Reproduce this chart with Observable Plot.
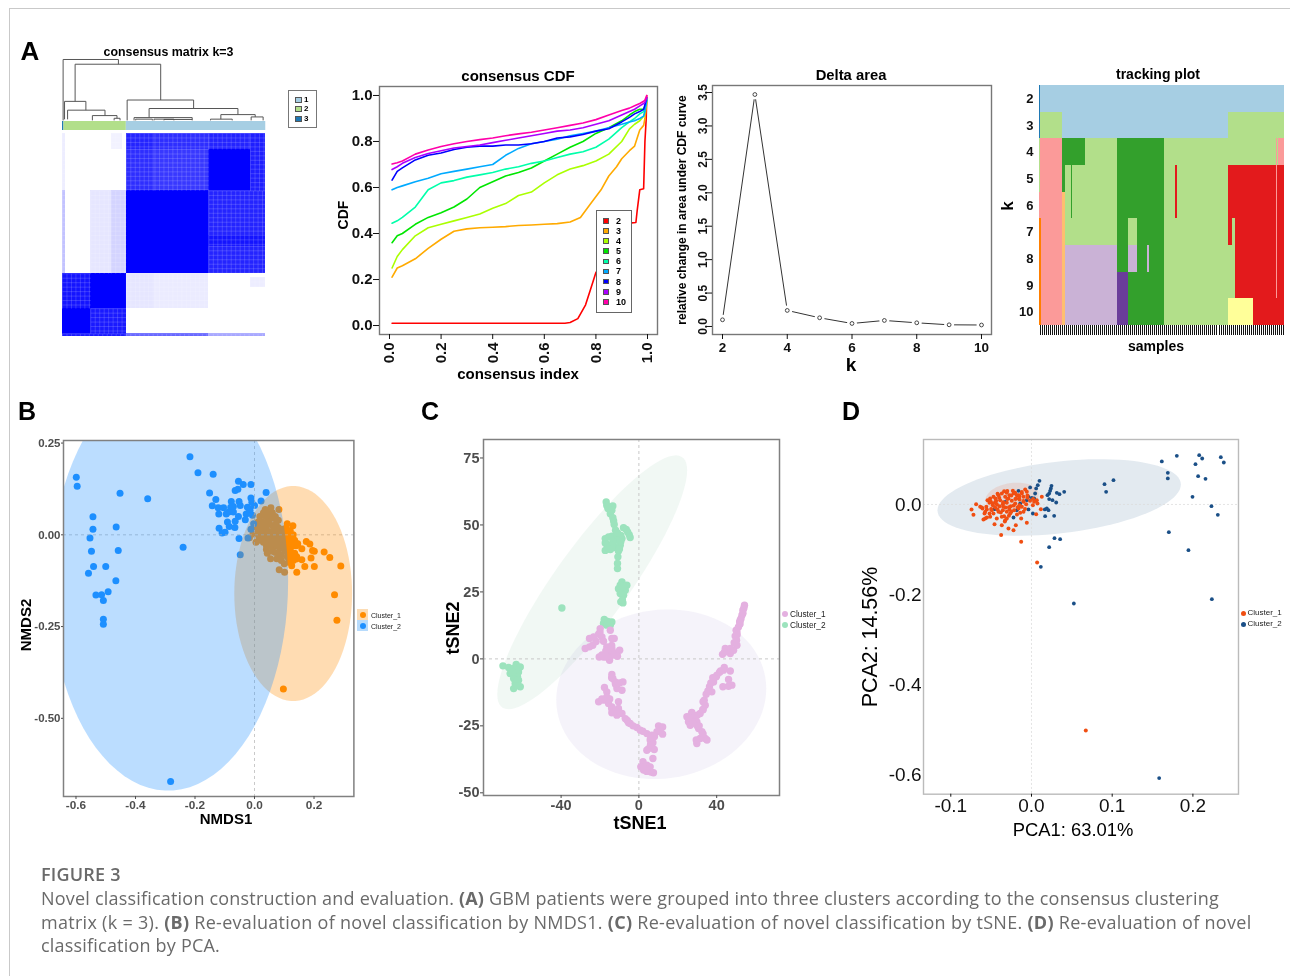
<!DOCTYPE html>
<html><head><meta charset="utf-8">
<script src="https://cdn.jsdelivr.net/npm/d3@7"></script>
<script src="https://cdn.jsdelivr.net/npm/@observablehq/plot@0.6"></script>
<style>
html,body{margin:0;padding:0;background:#fff;overflow:hidden}
#fig{position:relative;width:1290px;height:976px;overflow:hidden;font-family:"Liberation Sans",sans-serif;filter:blur(0.35px)}
.lab{position:absolute;white-space:nowrap;line-height:1}
.cap{position:absolute;left:41px;white-space:nowrap;font-family:"Open Sans",sans-serif;color:#6a6a6a;font-size:18px;letter-spacing:0.2px;line-height:1}
</style></head><body><div id="fig"></div>
<script>
// ---------- Panel A: dendrogram (sample %, height) ----------
const dendL=[0.3,6.2,1,2.5,14.7,25.4,31.8,42.6,77.9,92.8,35.2,36,45,49.9,72.8];
const dendR=[27.5,48.3,11.5,20.9,26.8,28.3,64.5,86.3,94.8,98.7,63.8,44.2,54.8,63.8,83.5];
const dendH=[1,0.923,0.319,0.176,0.088,0.044,0.341,0.203,0.104,0.066,0.055,0.03,0.03,0.025,0.03];
const dendLB=[0.01,0.319,0.027,0.027,0.01,0.01,0.01,0.055,0.03,0.01,0.01,0.01,0.01,0.01,0.01];
const dendRB=[0.923,0.341,0.176,0.088,0.044,0.01,0.203,0.104,0.066,0.01,0.02,0.01,0.01,0.01,0.01];
const clusterBarEnd=[0.7,31.4,100];
const clusterBarFill=["#1f78b4","#b2df8a","#a6cee3"];
// consensus blocks: x1,x2,y1,y2 in sample %, value = consensus
const matX1=[31.4,45.5,31.4,45.5,72,72,92.5,31.4,72,72,72,13.9,24,24,0,0,0,13.9,0,13.9,31.4,45.5,92.5,0,31.4,72];
const matX2=[45.5,72,45.5,72,92.5,92.5,100,72,100,100,100,24,31.4,29.5,1.3,1.3,13.9,31.4,13.9,31.4,45.5,72,100,31.4,72,100];
const matY1=[0,0,7.9,7.9,0,7.9,0,28.3,28.3,50.2,55.6,28.3,28.3,0,0,28.3,69.1,69.1,86.3,86.3,69.1,69.1,71,98.7,98.7,98.7];
const matY2=[7.9,7.9,28.3,28.3,7.9,28.3,28.3,69.1,50.2,55.6,69.1,69.1,69.1,7.9,28.3,69.1,86.3,86.3,98.7,98.7,86.3,86.3,76,100,100,100];
const matV=[0.86,0.82,0.82,0.78,0.86,1,0.88,1,0.86,0.92,0.86,0.1,0.17,0.05,0.07,0.24,0.92,1,1,0.9,0.1,0.08,0.07,0.9,0.6,0.35];
const legendK=["1","2","3"];
const legendKFill=["#a6cee3","#b2df8a","#1f78b4"];

// ---------- Panel A: consensus CDF ----------
const cdfGrid=[0.01,0.03,0.05,0.1,0.15,0.2,0.25,0.3,0.35,0.4,0.45,0.5,0.55,0.6,0.65,0.7,0.75,0.8,0.85,0.9,0.93,0.95,0.97,0.985,0.99,0.997];
const cdf10=[0.702,0.708,0.715,0.745,0.763,0.778,0.79,0.8,0.808,0.815,0.825,0.833,0.84,0.85,0.86,0.87,0.88,0.895,0.915,0.935,0.945,0.955,0.965,0.975,0.98,1];
const cdf9=[0.678,0.69,0.705,0.73,0.748,0.76,0.772,0.778,0.785,0.795,0.805,0.815,0.825,0.835,0.845,0.85,0.86,0.875,0.89,0.915,0.93,0.94,0.955,0.965,0.97,0.99];
const cdf8=[0.632,0.67,0.685,0.72,0.74,0.75,0.765,0.775,0.78,0.78,0.785,0.785,0.79,0.8,0.815,0.82,0.83,0.845,0.855,0.885,0.905,0.92,0.93,0.94,0.96,0.99];
const cdf7=[0.59,0.6,0.607,0.625,0.64,0.66,0.67,0.68,0.69,0.7,0.74,0.77,0.79,0.8,0.81,0.825,0.835,0.845,0.86,0.875,0.885,0.89,0.9,0.91,0.93,0.98];
const cdf6=[0.445,0.455,0.47,0.515,0.59,0.62,0.63,0.645,0.655,0.665,0.68,0.69,0.705,0.715,0.73,0.745,0.755,0.775,0.81,0.86,0.885,0.9,0.92,0.93,0.95,0.98];
const cdf5=[0.36,0.39,0.4,0.44,0.47,0.49,0.515,0.55,0.6,0.625,0.65,0.665,0.685,0.715,0.745,0.775,0.8,0.835,0.86,0.89,0.915,0.93,0.94,0.94,0.95,0.98];
const cdf4=[0.25,0.3,0.33,0.39,0.425,0.44,0.455,0.47,0.485,0.51,0.53,0.565,0.58,0.62,0.655,0.68,0.695,0.715,0.745,0.8,0.855,0.875,0.89,0.91,0.93,0.97];
const cdf3X=[0.01,0.03,0.05,0.1,0.15,0.2,0.25,0.3,0.35,0.4,0.45,0.5,0.55,0.6,0.65,0.7,0.74,0.78,0.82,0.85,0.88,0.9,0.93,0.95,0.97,0.985,0.99,0.997];
const cdf3=[0.21,0.25,0.26,0.29,0.335,0.375,0.41,0.42,0.425,0.427,0.43,0.435,0.437,0.44,0.443,0.45,0.47,0.53,0.59,0.65,0.69,0.725,0.76,0.78,0.85,0.87,0.9,0.97];
const cdf2X=[0.01,0.68,0.7,0.73,0.76,0.78,0.8,0.85,0.9,0.93,0.955,0.96,0.97,0.985,0.99,0.995,0.997];
const cdf2=[0.01,0.01,0.013,0.03,0.09,0.16,0.23,0.32,0.4,0.445,0.448,0.5,0.59,0.595,0.8,0.9,1];
const cdfK=["2","3","4","5","6","7","8","9","10"];
const cdfColors=["#ff0000","#ffaa00","#aaff00","#00e600","#00ffaa","#00aaff","#0000ff","#aa00ff","#ff00aa"];

// ---------- Panel A: delta area ----------
const deltaK=[2,3,4,5,6,7,8,9,10];
const deltaV=[0.1,3.47,0.24,0.13,0.045,0.09,0.055,0.025,0.022];

// ---------- Panel A: tracking plot (end %, colour) ----------
const DB="#1f78b4",LB="#a6cee3",LG="#b2df8a",DG="#33a02c",PK="#fb9a99",RD="#e31a1c",LO="#fdbf6f",OR="#ff7f00",LV="#cab2d6",PU="#6a3d9a",YE="#ffff99";
const track2=[[0.4,DB],[100,LB]];
const track3=[[0.4,DB],[9.5,LG],[77.3,LB],[100,LG]];
const track4=[[0.4,LG],[9.5,PK],[19,DG],[32,LG],[51.2,DG],[96.7,LG],[97.2,PK],[97.5,LG],[100,PK]];
const track5=[[0.3,LG],[9.5,PK],[10.7,DG],[13,LG],[13.6,DG],[32,LG],[51.2,DG],[55.6,LG],[56.6,RD],[77.3,LG],[96.8,RD],[97.2,PK],[100,RD]];
const track6=[[0.2,LV],[9.5,PK],[10.7,LO],[13,LG],[13.6,DG],[32,LG],[51.2,DG],[55.6,LG],[56.6,RD],[77.3,LG],[96.8,RD],[97.2,PK],[100,RD]];
const track7=[[0.9,OR],[9.5,PK],[10.7,LO],[32,LG],[36.2,DG],[40,LG],[51.2,DG],[77.3,LG],[79,RD],[80.2,LG],[96.8,RD],[97.2,PK],[100,RD]];
const track8=[[0.9,OR],[9.5,PK],[10.7,LO],[32,LV],[36.2,DG],[40,LV],[44.3,DG],[44.9,LV],[51.2,DG],[80.2,LG],[96.8,RD],[97.2,PK],[100,RD]];
const track9=[[0.9,OR],[9.5,PK],[10.7,LO],[32,LV],[36.2,PU],[51.2,DG],[80.2,LG],[96.8,RD],[97.2,PK],[100,RD]];
const track10=[[0.9,OR],[9.5,PK],[10.7,LO],[32,LV],[36.2,PU],[51.2,DG],[77.3,LG],[87.5,YE],[100,RD]];
const trackRows=[track2,track3,track4,track5,track6,track7,track8,track9,track10];
const sampleCount=122;

// ---------- Panel B: NMDS ----------
const nmdsBlueX=[-0.599,-0.596,-0.543,-0.543,-0.553,-0.548,-0.541,-0.558,-0.5,-0.533,-0.514,-0.492,-0.508,-0.508,-0.508,-0.466,-0.465,-0.458,-0.452,-0.359,-0.24,-0.217,-0.19,-0.139,-0.151,-0.13,-0.142,-0.122,-0.104,-0.12,-0.095,-0.087,-0.078,-0.08,-0.071,-0.052,-0.048,-0.071,-0.054,-0.065,-0.091,-0.085,-0.066,-0.119,-0.109,-0.099,-0.054,-0.038,-0.012,-0.056,-0.065,-0.012,-0.009,0,-0.024,-0.015,-0.031,-0.007,0.039,0.022,-0.052,-0.022,-0.048,-0.012,-0.003,-0.028,-0.017,-0.282];
const nmdsBlueY=[0.157,0.132,0.049,0.015,-0.009,-0.045,-0.086,-0.105,-0.086,-0.164,-0.163,-0.155,-0.179,-0.23,-0.244,-0.125,0.021,-0.043,0.113,0.098,-0.034,0.213,0.169,0.165,0.114,0.096,0.079,0.074,0.074,0.057,0.057,0.062,0.091,0.075,0.077,0.091,0.08,0.062,0.05,0.037,0.035,0.023,0.02,0.018,0.005,0.007,0.146,0.137,0.137,0.124,0.121,0.1,0.089,0.08,0.075,0.066,0.041,0.053,0.115,0.092,-0.01,-0.009,-0.054,0.015,0.03,0.057,0.071,-0.672];
const nmdsOrangeX=[0.097,0.277,0.269,0.29,0.253,0.234,0.201,0.19,0.195,0.201,0.186,0.174,0.169,0.142,0.125,0.159,0.14,0.131,0.159,0.145,0.129,0.11,0.101,0.083,0.1,0.054,0.043,0.082,0.055,0.036,-0.017,-0.005,0.005,0.012,0.018,0.028,0.035,0.045,0.05,0.06,0.07,0.012,0.022,0.032,0.04,0.05,0.06,0.072,0.08,0.09,0.015,0.025,0.035,0.045,0.055,0.065,0.075,0.085,0.095,0.005,0.015,0.025,0.035,0.045,0.055,0.065,0.075,0.09,0.105,0.115,0.045,0.055,0.065,0.075,0.085,0.095,0.105,0.115,0.125,0.135,0.06,0.07,0.08,0.09,0.105,0.115,0.125,0.135,0.12,0.13,0.115,0.145,0.11,0.12,0.11,0.125,0.13,0.105,0.095,0.14,0.142,0.05,0.04,0.03,0.04,0.06,0.02,0.01,0.03,0.06,0.07,0.08,0.07,0.03,0.06,0.08,0.1,0.11,0.09,0.12,0.13,0.04,0.075];
const nmdsOrangeY=[-0.42,-0.233,-0.163,-0.085,-0.062,-0.047,-0.086,-0.063,-0.043,-0.045,-0.025,-0.018,-0.086,-0.102,-0.084,-0.068,-0.066,-0.061,-0.038,-0.024,0.025,0.03,-0.102,-0.095,-0.079,-0.065,-0.05,0.069,0.074,0.069,-0.008,0.002,0.022,0.035,0.05,0.035,0.052,0.04,0.055,0.045,0.05,0.008,0.015,0.02,0.025,0.03,0.025,0.03,0.02,0.01,-0.005,-0.002,0.005,0.01,0.008,0.01,0.005,-0.002,-0.005,-0.02,-0.015,-0.012,-0.01,-0.015,-0.01,-0.015,-0.012,-0.02,-0.015,-0.01,-0.025,-0.03,-0.03,-0.03,-0.035,-0.03,-0.028,-0.025,-0.02,-0.015,-0.045,-0.048,-0.05,-0.055,-0.045,-0.05,-0.055,-0.05,-0.07,-0.07,-0.075,-0.025,0.005,0.012,-0.002,-0.005,0,0.018,0.015,-0.03,-0.06,-0.005,-0.03,0.06,0.062,0.06,0.03,0.02,0,0,0.02,0.04,-0.005,-0.02,-0.02,-0.02,-0.04,-0.06,-0.07,-0.04,-0.03,-0.04,-0.065];

// ---------- Panel C: tSNE ----------
const tsneGreenX=[-16.8,-16.5,-13.4,-15.9,-13.9,-14.7,-13.4,-13,-12.7,-7.9,-6.5,-5.8,-5,-4.5,-17.3,-15.6,-13.9,-11.3,-9.3,-8.7,-17.3,-16.5,-17.3,-14.7,-12.2,-9.6,-9.3,-11.3,-13.4,-13.4,-10.5,-13.9,-10.8,-11,-11,-8.7,-9.6,-6.2,-10.5,-7.9,-9.3,-7,-9.6,-7.9,-9.3,-8.2,-39.6,-17.8,-18.2,-16.5,-13.9,-14.7,-69.9,-67,-63.1,-61,-64.4,-66.2,-63.6,-61.9,-64.4,-61.9,-63.6,-64.4,-61,-62.4,-12,-11,-15.5,-10,-8,-8.5,-63,-65,-62.5,-63,-8.5,-16,-15];
const tsneGreenY=[58.6,57.3,57.1,56.1,55.5,54.2,52.7,51.5,50.2,49,48.3,47.4,46.4,45.3,44.9,45.5,45.8,46.5,46.1,44.9,43.3,42.7,40.5,40.8,41.8,42.4,43.7,44.3,43.7,41.5,40.3,42.4,38.1,35.6,33.7,28.7,27.5,27.5,26.2,26.2,25.6,25.6,24.4,23.8,21.3,20.9,19,14.7,13.2,12.6,13.8,12.6,-2.6,-3.2,-2.1,-3,-3.6,-5.5,-5.5,-4.9,-7.3,-8,-9.2,-11.1,-10.4,-6.7,48,47,41,41,27,24,-4,-5,-8,-10,22,14,13.5];
const tsnePinkX=[-19.9,-25.4,-23.3,-20.7,-19,-14.7,-13.9,-12.7,-16.5,-23.7,-25.4,-27.6,-20.4,-18.2,-15.6,-13.9,-12.2,-9.9,-13.9,-15.6,-13,-15.1,-16.8,-18.2,-13.9,-13.4,-12.2,-8.2,-11.3,-8.7,-17.7,-16.5,-20.7,-18.2,-16.5,-15.6,-13.9,-10.5,-10.5,-13.9,-11.3,-8.7,-7,-5.3,-4.5,-1,0.7,4.1,6.7,10.1,12.2,9.3,12.2,5.8,7.2,5,7.9,4.1,7.2,2.1,1,2.4,5,6.2,7.5,4.1,5.8,24.7,27.2,25.5,29,26.4,28.1,29.8,30.7,32.4,34.1,29.8,31.5,29.5,35,31.5,32.9,34.1,33.6,34.6,37.5,36.3,38.4,39.8,40.1,43.5,43.9,47,43.2,46.1,47.8,46.1,43,44.4,47,48.7,50.4,49.5,50,51.2,52.1,53,54.3,53.5,51.8,50.4,41.5,42,38,37,35.5,33,33,30,27,47,44,49,50.2,50.5,52,52.5,53.5,54,-14,-12,-10,-19,-15,-14,-12,-10,-6,-3,2,6,6,11,8,3,4,-17,-14,-22,-19,-11,-20,30,31,33,27,26,28];
const tsnePinkY=[11.3,7.6,8.2,9.2,8.2,10.7,7.6,7.6,4.5,5.1,4.5,3.9,0.7,0.7,2,2.6,2.2,3.2,3.9,3.2,1.4,-0.5,0.7,6.6,-5.8,-7.3,-8.6,-8.6,-11.1,-11.7,-10.7,-12.3,-16,-15.4,-14.2,-16.7,-17.9,-16,-18.5,-20.1,-21,-20.4,-22.3,-23.8,-24.1,-25.6,-26.6,-27.9,-28.5,-25,-25.4,-27.2,-28.1,-30.3,-31.3,-33.5,-33.8,-34.1,-37.2,-38.4,-40.3,-41.5,-40.9,-42.2,-42.5,-39.7,-40.3,-21.6,-20,-23.5,-22.9,-24.8,-22.3,-23.5,-26,-27.2,-29.7,-31.6,-29.7,-30.3,-30.3,-20.4,-18.9,-17.3,-15.4,-13.2,-12.3,-10.4,-8.6,-6.7,-6.1,-4.2,-3.2,-4.5,-10.4,-7.7,-9.8,-10.2,1.7,3.9,3.9,3.2,5.1,8.5,10.7,11.9,14.4,16.3,20,18.2,13.8,10.1,-5,-4.5,-7,-9,-12,-16,-19,-21,-22,2,2.5,6,7,9,13,15,17,19,-7,-9.5,-9,-15,-15,-18.5,-19.5,-20,-23,-25,-27,-29.5,-32,-27,-29,-41,-42,3,5,6.5,1.5,1,10,-25,-25,-28,-20.5,-22,-24];

// ---------- Panel D: PCA ----------
const pcaBlueX=[0.1615,0.1801,0.2078,0.2115,0.2032,0.2346,0.2383,0.1689,0.1689,0.2065,0.2156,0.1995,0.223,0.2309,0.1702,0.1945,0.2235,0.1582,0.0525,0.0116,0.0219,0.0285,0.0355,0.0905,0.1016,0.0925,0.0099,0.0078,0.0058,0.0248,0.024,0.0231,0.0219,0.0198,0.0314,0.0347,0.0405,0.0219,0.026,0.0306,0.0165,0.019,0.0211,0.0169,0.0281,0.0017,-0.0037,-0.0161,-0.0017,-0.0037,0.0004,0.0045,0.0033,-0.014,-0.0326,-0.0458,-0.0223,-0.0182,-0.0058];
const pcaBlueY=[0.0956,0.1081,0.1096,0.1022,0.0896,0.1052,0.0933,0.0704,0.0578,0.063,0.057,0.017,-0.0037,-0.023,-0.0615,-0.1015,-0.2104,-0.6081,-0.22,-0.1385,-0.0948,-0.0748,-0.077,0.0452,0.0541,0.0281,0.0526,0.043,0.0356,0.0415,0.0356,0.0304,0.0244,0.0207,0.0259,0.023,0.0281,0.0119,0.0096,0.0044,-0.0111,-0.0089,-0.0126,-0.0259,-0.0252,-0.02,-0.0111,0.0304,0.0378,0.017,0.0148,0.0244,0.0133,0.0022,0.0059,-0.0104,-0.0289,-0.0126,0.0096];
const pcaRedX=[0.0673,0.007,-0.0128,-0.0376,-0.0223,-0.0285,-0.0194,-0.0368,-0.0458,-0.0058,-0.0128,-0.0326,-0.043,-0.0553,-0.0595,-0.0574,-0.0719,-0.0743,-0.0686,-0.0636,-0.0607,-0.0582,-0.0512,0.0058,0.0116,0.0128,0.0066,-0.0545,-0.0512,-0.0471,-0.0438,-0.0409,-0.0368,-0.0339,-0.0306,-0.0273,-0.0231,-0.0202,-0.0161,-0.012,-0.0078,-0.0058,-0.0099,-0.0149,-0.019,-0.0244,-0.0285,-0.0326,-0.0388,-0.043,-0.0479,-0.052,-0.045,-0.0397,-0.0355,-0.0306,-0.0256,-0.0202,-0.0149,-0.0099,-0.0017,0.0033,0.0074,-0.0409,-0.0355,-0.0306,-0.0264,-0.0215,-0.0161,-0.0099,-0.0471,-0.0339,-0.0306,-0.0553,-0.0492,-0.0615,-0.0368,-0.0421,-0.014,-0.0066,0.0017,-0.0322,-0.0273,-0.0504,-0.0574,-0.0446,-0.0182,-0.035,-0.03,-0.025,-0.02,-0.015,-0.01,-0.04,-0.045,-0.035,-0.028,-0.022,-0.012,-0.005,-0.03,-0.022,-0.038,-0.028,-0.018,-0.05,-0.052,-0.033,-0.012,-0.005,0.002,-0.042,-0.048,-0.056,-0.017,-0.008,-0.025];
const pcaRedY=[-0.5022,-0.1289,-0.083,-0.0681,-0.057,-0.0533,-0.0459,-0.0459,-0.0437,-0.0407,-0.0311,-0.0348,-0.0311,-0.0289,-0.0333,-0.0311,-0.023,-0.0111,0.0007,-0.0052,-0.0089,-0.02,-0.0274,-0.0215,-0.0104,0.017,0.0096,0.0096,0.0133,0.017,0.0081,0.0207,0.0244,0.0296,0.0259,0.0207,0.0304,0.0259,0.0207,0.0244,0.0333,0.0281,0.017,0.0111,0.0133,0.0081,0.0133,0.017,0.0096,0.0007,-0.0015,0.0037,-0.0067,-0.0037,0.0007,0.0037,-0.0037,0.0022,-0.0015,0.0059,0.0081,0.0059,0.0022,-0.0163,-0.0126,-0.0163,-0.02,-0.0126,-0.0089,-0.0163,-0.02,-0.0259,-0.0311,-0.0111,-0.0126,-0.0067,-0.0274,-0.0111,-0.0185,0.0007,-0.0015,-0.0067,-0.0111,0.0059,-0.0163,0.0133,0.0207,0.005,0.012,0.02,0.012,0.018,0.008,0.015,0.005,-0.005,-0.006,-0.002,-0.005,0.015,0.03,0.025,-0.018,-0.025,-0.022,-0.01,-0.02,-0.038,0.028,0.02,0.012,0.024,0.002,-0.005,-0.006,-0.01,-0.016];

// ---------- helpers ----------
const fig=document.getElementById("fig");
const SANS='"Liberation Sans",sans-serif';
function lab(t,x,y,o={}){
  const d=document.createElement("div");d.className="lab";d.textContent=t;
  d.style.left=x+"px";d.style.top=y+"px";
  d.style.fontSize=(o.s||12)+"px";d.style.fontWeight=o.w||"bold";d.style.color=o.c||"#000";
  d.style.transform=`translate(${o.a==="start"?"0":"-50%"},-50%)`+(o.r?` rotate(${o.r}deg)`:"");
  fig.appendChild(d);return d;
}
function box(x,y,w,h,fill,stroke){
  const d=document.createElement("div");
  d.style.cssText=`position:absolute;left:${x}px;top:${y}px;width:${w}px;height:${h}px;box-sizing:border-box;background:${fill};`+(stroke?`border:1px solid ${stroke};`:"");
  fig.appendChild(d);return d;
}
function panel(b,marks,opts={}){
  const m={l:55,r:6,t:6,b:40};
  const p=Plot.plot({width:b[2]-b[0]+m.l+m.r,height:b[3]-b[1]+m.t+m.b,marginLeft:m.l,marginRight:m.r,marginTop:m.t,marginBottom:m.b,
    style:{background:"transparent",fontFamily:SANS,overflow:"visible"},marks,...opts});
  p.style.position="absolute";p.style.left=(b[0]-m.l)+"px";p.style.top=(b[1]-m.t)+"px";p.style.maxWidth="none";
  fig.appendChild(p);return p;
}
// ellipse from centre and two conjugate semi-axis vectors
function ellipse(c,a,b){return d3.range(0,361,4).map(t=>{const r=t*Math.PI/180;return{x:c[0]+a[0]*Math.cos(r),y:c[1]+a[1]*Math.cos(r)+b*Math.sin(r)}})}
const ell=(e,fill,op)=>Plot.line(e,{x:"x",y:"y",fill,fillOpacity:op,stroke:"none",clip:true});

// page chrome
box(9,8,1281,1,"#c9c9c9");box(9,8,1,968,"#c9c9c9");
lab("A",30,51,{s:26});lab("B",27,411,{s:25});lab("C",430,411,{s:25});lab("D",851,411,{s:25});

// ---------- consensus matrix ----------
lab("consensus matrix k=3",168.5,52,{s:12.4});
panel([61.7,59,265,120.5],[
  Plot.link(dendL,{x1:dendL,x2:dendR,y1:dendH,y2:dendH,stroke:"#555",strokeWidth:1}),
  Plot.link(dendL,{x1:dendL,x2:dendL,y1:dendLB,y2:dendH,stroke:"#555",strokeWidth:1}),
  Plot.link(dendR,{x1:dendR,x2:dendR,y1:dendRB,y2:dendH,stroke:"#555",strokeWidth:1})
],{x:{domain:[0,100],axis:null},y:{domain:[0,1],axis:null}});
panel([61.7,121,265,130],[
  Plot.rect(clusterBarEnd,{x1:(d,i)=>i?clusterBarEnd[i-1]:0,x2:d=>d,y1:0,y2:1,fill:(d,i)=>clusterBarFill[i]})
],{x:{domain:[0,100],axis:null},y:{domain:[0,1],axis:null},color:{type:"identity"}});
// fine lattice over the mottled (non-saturated) blocks
const latticeStep=2.2;
const matIdx=d3.range(matV.length).filter(i=>matV[i]<1);
const latV=matIdx.flatMap(i=>d3.range(matX1[i],matX2[i],latticeStep).map(p=>({p,a:matY1[i],b:matY2[i]})));
const latH=matIdx.flatMap(i=>d3.range(matY1[i],matY2[i],latticeStep).map(p=>({p,a:matX1[i],b:matX2[i]})));
panel([61.7,133,265,336],[
  Plot.rect(matV,{x1:matX1,x2:matX2,y1:matY1,y2:matY2,fill:matV,shapeRendering:"crispEdges"}),
  Plot.link(latV,{x1:"p",x2:"p",y1:"a",y2:"b",stroke:"#fff",strokeOpacity:0.2,strokeWidth:0.8}),
  Plot.link(latH,{x1:"a",x2:"b",y1:"p",y2:"p",stroke:"#fff",strokeOpacity:0.2,strokeWidth:0.8})
],{x:{domain:[0,100],axis:null},y:{domain:[100,0],axis:null},color:{type:"linear",domain:[0,1],range:["white","blue"]}});
box(288,90,29,38,"#fff","#777");
legendK.forEach((k,i)=>{box(295,97+i*9.3,6.5,6,legendKFill[i],"#555");lab(k,304,100+i*9.3,{s:8,a:"start"})});

// ---------- CDF ----------
const cdfSeries=[[cdf2X,cdf2],[cdf3X,cdf3],[cdfGrid,cdf4],[cdfGrid,cdf5],[cdfGrid,cdf6],[cdfGrid,cdf7],[cdfGrid,cdf8],[cdfGrid,cdf9],[cdfGrid,cdf10]];
lab("consensus CDF",518,75,{s:15});
panel([379,86,657,334],[
  ...cdfSeries.map((s,i)=>Plot.line(s[0],{x:s[0],y:s[1],stroke:cdfColors[i],strokeWidth:1.6})),
  Plot.frame({stroke:"#777",strokeWidth:1.4}),
  Plot.axisX({ticks:[0,.2,.4,.6,.8,1],tickFormat:d=>d.toFixed(1),tickRotate:-90,tickSize:5,tickPadding:3,label:null,fontSize:15,fontWeight:"bold",color:"#111"}),
  Plot.axisY({ticks:[0,.2,.4,.6,.8,1],tickFormat:d=>d.toFixed(1),tickSize:6,tickPadding:1,label:null,fontSize:15,fontWeight:"bold",color:"#111"})
],{x:{domain:[-0.0387,1.0387],axis:null},y:{domain:[-0.039,1.039],axis:null}});
lab("CDF",343,215,{s:14,r:-90});lab("consensus index",518,373,{s:15});
box(595.7,209.7,36,103,"#fff","#666");
cdfK.forEach((k,i)=>{box(603,218+i*10.15,6,5.5,cdfColors[i],"#555");lab(k,616,220.7+i*10.15,{s:9,a:"start"})});

// ---------- Delta ----------
lab("Delta area",851,75,{s:14.8});
panel([712,85,991,334],[
  Plot.line(deltaK,{x:deltaK,y:deltaV,stroke:"#333",strokeWidth:1}),
  Plot.dot(deltaK,{x:deltaK,y:deltaV,r:5,fill:"#fff",stroke:"none"}),
  Plot.dot(deltaK,{x:deltaK,y:deltaV,r:1.9,fill:"#fff",stroke:"#333",strokeWidth:0.9}),
  Plot.frame({stroke:"#777",strokeWidth:1.4}),
  Plot.axisX({ticks:[2,4,6,8,10],tickSize:5,tickPadding:3,label:null,fontSize:13.5,fontWeight:"bold",color:"#111"}),
  Plot.axisY({ticks:[0,.5,1,1.5,2,2.5,3,3.5],tickFormat:d=>d.toFixed(1),tickRotate:-90,tickSize:5,tickPadding:1,label:null,fontSize:12,fontWeight:"bold",color:"#111"})
],{x:{domain:[1.691,10.309],axis:null},y:{domain:[-0.12,3.605],axis:null}});
lab("relative change in area under CDF curve",682,210,{s:12,r:-90});lab("k",851,364,{s:19});

// ---------- tracking ----------
const trackTable=trackRows.flatMap((row,i)=>row.map((c,j)=>({k:i+2,a:j?row[j-1][0]:0,b:c[0],f:c[1]})));
const samples=d3.range(sampleCount).map(i=>(i+0.5)*100/sampleCount);
lab("tracking plot",1158,74,{s:14});
panel([1039.3,85.3,1284,335.5],[
  Plot.rect(trackTable,{x1:"a",x2:"b",y1:"k",y2:d=>d.k+1,fill:"f",shapeRendering:"crispEdges"}),
  Plot.ruleX(samples,{x:d=>d,y1:11,y2:11.39,stroke:"#111",strokeWidth:1,shapeRendering:"crispEdges"}),
  Plot.axisY({ticks:deltaK.map(k=>k+0.5),tickFormat:d=>d-0.5,tickSize:0,tickPadding:6,label:null,fontSize:13,fontWeight:"bold",color:"#111"})
],{x:{domain:[0,100],axis:null},y:{domain:[11.39,2],axis:null},color:{type:"identity"}});
lab("k",1007,206,{s:17,r:-90});lab("samples",1156,346,{s:14});

// ---------- NMDS ----------
panel([63.3,440,353.7,796],[
  Plot.dot(nmdsOrangeX,{x:nmdsOrangeX,y:nmdsOrangeY,r:3.5,fill:"#ff8c00"}),
  Plot.dot(nmdsBlueX,{x:nmdsBlueX,y:nmdsBlueY,r:3.5,fill:"#1e90ff"}),
  Plot.ruleX([0],{stroke:"#bbb",strokeWidth:0.8,strokeDasharray:"3,3"}),
  Plot.ruleY([0],{stroke:"#bbb",strokeWidth:0.8,strokeDasharray:"3,3"}),
  ell(ellipse([0.13,-0.16],[0.198,0],0.293),"#ff8c00",0.3),
  ell(ellipse([-0.287,-0.13],[0.4,0.005],0.567),"#1e90ff",0.3),
  Plot.frame({stroke:"#808080",strokeWidth:1.5}),
  Plot.axisX({ticks:[-.6,-.4,-.2,0,.2],tickFormat:d=>d.toFixed(1),tickSize:3,tickPadding:1,label:null,fontSize:11.8,fontWeight:"bold",color:"#4d4d4d"}),
  Plot.axisY({ticks:[-.5,-.25,0,.25],tickFormat:d=>d.toFixed(2),tickSize:2,tickPadding:1,label:null,fontSize:11.5,fontWeight:"bold",color:"#4d4d4d"})
],{x:{domain:[-0.642,0.334],axis:null},y:{domain:[-0.713,0.257],axis:null}});
lab("NMDS1",226,818,{s:15});lab("NMDS2",25,625,{s:15,r:-90});
box(357,609,11,11,"#fcdcb4");box(357,620,11,11,"#b7dbfc");
[["#ff8c00",614.5,"Cluster_1"],["#1e90ff",626,"Cluster_2"]].forEach(k=>{
  const d=box(359.5,k[1]-3,6,6,k[0]);d.style.borderRadius="50%";lab(k[2],371,k[1],{s:7,w:"normal",c:"#222",a:"start"})});

// ---------- tSNE ----------
panel([483.3,439.3,779.3,795.3],[
  ell(ellipse([-24,28.6],[48.8,41.8],22.3),"#73b991",0.1),
  ell(ellipse([11.5,-13.2],[54,2.1],31.6),"#9b87cd",0.1),
  Plot.ruleX([0],{stroke:"#c8c8c8",strokeWidth:1,strokeDasharray:"3,3"}),
  Plot.ruleY([0],{stroke:"#c8c8c8",strokeWidth:1,strokeDasharray:"3,3"}),
  Plot.dot(tsneGreenX,{x:tsneGreenX,y:tsneGreenY,r:3.7,fill:"#9ce3bd"}),
  Plot.dot(tsnePinkX,{x:tsnePinkX,y:tsnePinkY,r:3.7,fill:"#e4b0e0"}),
  Plot.frame({stroke:"#808080",strokeWidth:1.5}),
  Plot.axisX({ticks:[-40,0,40],tickFormat:d=>String(d),tickSize:3,tickPadding:1,label:null,fontSize:14.5,fontWeight:"bold",color:"#4d4d4d"}),
  Plot.axisY({ticks:[-50,-25,0,25,50,75],tickFormat:d=>String(d),tickSize:3,tickPadding:1,label:null,fontSize:14.5,fontWeight:"bold",color:"#4d4d4d"})
],{x:{domain:[-79.9,72.3],axis:null},y:{domain:[-51,81.9],axis:null}});
lab("tSNE1",640,823,{s:18});lab("tSNE2",453,628,{s:18,r:-90});
[["#e4b0e0",614,"Cluster_1"],["#9ce3bd",625,"Cluster_2"]].forEach(k=>{
  const d=box(782,k[1]-3,6,6,k[0]);d.style.borderRadius="50%";lab(k[2],790,k[1],{s:8.3,w:"normal",c:"#222",a:"start"})});

// ---------- PCA ----------
panel([923.3,439.3,1238.3,794],[
  ell(ellipse([0.0343,0.0156],[0.1508,0.0287],0.0801),"#1a4f87",0.12),
  ell(ellipse([-0.024,0.016],[0.033,0.006],0.032),"#f04e12",0.12),
  Plot.ruleX([0],{stroke:"#ddd",strokeWidth:0.8,strokeDasharray:"2,2"}),
  Plot.ruleY([0],{stroke:"#ddd",strokeWidth:0.8,strokeDasharray:"2,2"}),
  Plot.dot(pcaBlueX,{x:pcaBlueX,y:pcaBlueY,r:1.9,fill:"#1a4f87"}),
  Plot.dot(pcaRedX,{x:pcaRedX,y:pcaRedY,r:2,fill:"#f04e12"}),
  Plot.frame({stroke:"#bbb",strokeWidth:1.4}),
  Plot.axisX({ticks:[-.1,0,.1,.2],tickFormat:d=>d.toFixed(1),tickSize:3,tickPadding:1,label:null,fontSize:19,color:"#111"}),
  Plot.axisY({ticks:[-.6,-.4,-.2,0],tickFormat:d=>d.toFixed(1),tickSize:0,tickPadding:2,label:null,fontSize:19,color:"#111"})
],{x:{domain:[-0.1338,0.2565],axis:null},y:{domain:[-0.6438,0.1444],axis:null}});
lab("PCA1: 63.01%",1073,830,{s:18.4,w:"normal"});lab("PCA2: 14.56%",871,637,{s:21.4,w:"normal",r:-90});
[["#f04e12",613,"Cluster_1"],["#1a4f87",624,"Cluster_2"]].forEach(k=>{
  const d=box(1241,k[1]-2.5,5,5,k[0]);d.style.borderRadius="50%";lab(k[2],1247.5,k[1],{s:8,w:"normal",c:"#222",a:"start"})});

// ---------- caption ----------
const captionLines=[
 ["<span style='font-weight:600'>FIGURE 3</span>",874,0.2],
 ["Novel classification construction and evaluation. <b>(A)</b> GBM patients were grouped into three clusters according to the consensus clustering",898,0.2],
 ["matrix (k = 3). <b>(B)</b> Re-evaluation of novel classification by NMDS1. <b>(C)</b> Re-evaluation of novel classification by tSNE. <b>(D)</b> Re-evaluation of novel",922,0.29],
 ["classification by PCA.",945,0.2]];
captionLines.forEach(l=>{const d=document.createElement("div");d.className="cap";d.innerHTML=l[0];d.style.top=l[1]+"px";d.style.letterSpacing=l[2]+"px";d.style.transform="translateY(-50%)";fig.appendChild(d)});
</script></body></html>
